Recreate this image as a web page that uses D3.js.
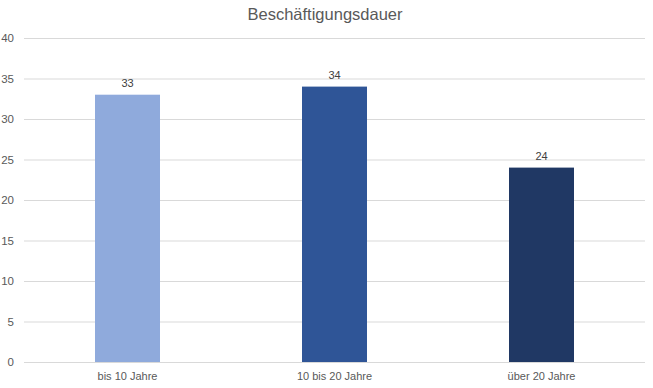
<!DOCTYPE html>
<html><head><meta charset="utf-8">
<script src="https://cdn.jsdelivr.net/npm/d3@7"></script>
<style>body{margin:0;background:#fff}svg{display:block}</style>
</head><body>
<svg id="c" width="653" height="388"></svg>
<script>
const categories = ["bis 10 Jahre", "10 bis 20 Jahre", "über 20 Jahre"];
const values = [33, 34, 24];
const colors = ["#8FAADC", "#2F5597", "#203864"];
const yTicks = [0, 5, 10, 15, 20, 25, 30, 35, 40];
const title = "Beschäftigungsdauer";

const svg = d3.select("#c");
const font = "'Liberation Sans', Arial, sans-serif";
const x = d3.scaleBand().domain(categories).range([24, 645]).paddingInner(0.686).paddingOuter(0.343);
const y = d3.scaleLinear().domain([0, 40]).range([362, 38]);

svg.append("text").attr("x", 325).attr("y", 20).attr("text-anchor", "middle")
  .attr("font-family", font).attr("font-size", 16.5).attr("fill", "#595959").text(title);

const ya = svg.append("g").attr("transform", "translate(24,0)")
  .call(d3.axisLeft(y).tickValues(yTicks).tickSize(-621).tickPadding(10));
ya.select(".domain").remove();
ya.selectAll(".tick line").attr("stroke", "#D9D9D9");
ya.selectAll(".tick text").attr("font-family", font).attr("font-size", 11.5).attr("fill", "#595959");

svg.selectAll("rect.bar").data(values).join("rect").attr("class", "bar")
  .attr("x", (d, i) => x(categories[i])).attr("width", x.bandwidth())
  .attr("y", d => y(d)).attr("height", d => y(0) - y(d))
  .attr("fill", (d, i) => colors[i]);

svg.selectAll("text.lbl").data(values).join("text").attr("class", "lbl")
  .attr("x", (d, i) => x(categories[i]) + x.bandwidth() / 2).attr("y", d => y(d) - 8)
  .attr("text-anchor", "middle").attr("font-family", font).attr("font-size", 11).attr("fill", "#404040")
  .text(d => d);

const xa = svg.append("g").attr("transform", "translate(0,362)")
  .call(d3.axisBottom(x).tickSize(0).tickPadding(10));
xa.select(".domain").remove();
xa.selectAll(".tick text").attr("font-family", font).attr("font-size", 11).attr("fill", "#595959");
</script>
</body></html>
